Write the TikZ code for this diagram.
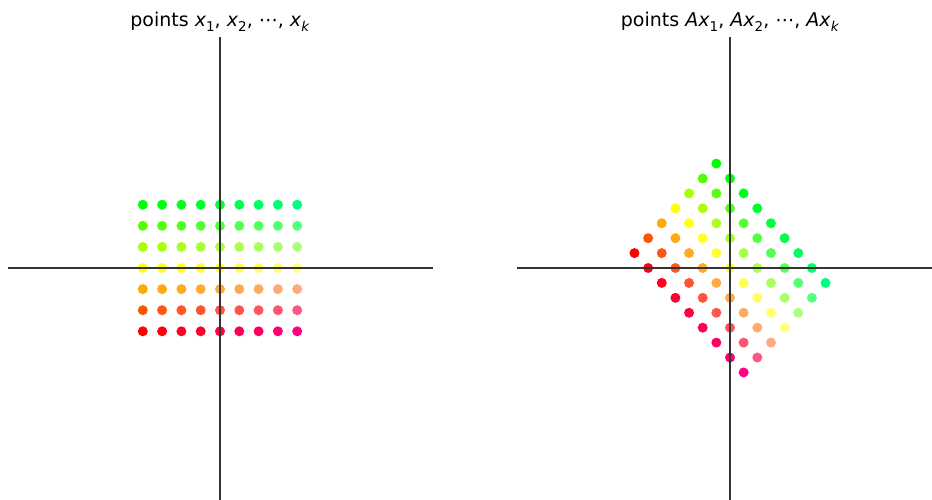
\documentclass[tikz,border=0pt]{standalone}
\usepackage{fontspec}
\setmainfont{DejaVu Sans}
\newcommand\mysub[1]{\raisebox{-0.24em}{\fontsize{13.5}{14}\selectfont #1}}
\begin{document}
\begin{tikzpicture}[x=1pt,y=-1pt]
\tikzset{
  axisline/.style={draw=black!80,line width=1.2pt},
  ttl/.style={anchor=base,inner sep=0pt,font=\fontsize{19}{22}\selectfont}
}
\useasboundingbox (0,0) rectangle (932,500);
% dots
\foreach \i in {-4,...,4}{
  \foreach \j in {-3,...,3}{
    \pgfmathtruncatemacro\R{min(255,max(0,255-85*\j))}
    \pgfmathtruncatemacro\G{min(255,max(0,255+85*\j))}
    \pgfmathtruncatemacro\B{16*(\i+4)}
    \definecolor{dotc}{RGB}{\R,\G,\B}
    \fill[dotc] ({220+19.3*\i},{268-21.1*\j}) circle[radius=5];
    \fill[dotc] ({730+19.3*(\i+\j)*0.70711},{268-21.1*(\j-\i)*0.70711}) circle[radius=5];
  }
}
% axes
\coordinate (lt) at (220,37); \coordinate (lb) at (220,500);
\coordinate (ll) at (8,268); \coordinate (lr) at (433,268);
\coordinate (rt) at (730,37); \coordinate (rb) at (730,500);
\coordinate (rl) at (517,268); \coordinate (rr) at (932,268);
\draw[axisline] (lt) -- (lb);
\draw[axisline] (ll) -- (lr);
\draw[axisline] (rt) -- (rb);
\draw[axisline] (rl) -- (rr);
% titles
\node[ttl] (t1) at (220,27) {points \textit{x}\mysub{1}, \textit{x}\mysub{2}, ⋯, \textit{x}\mysub{\textit{k}}};
\node[ttl] (t2) at (730,27) {points \textit{Ax}\mysub{1}, \textit{Ax}\mysub{2}, ⋯, \textit{Ax}\mysub{\textit{k}}};
\end{tikzpicture}
\end{document}
